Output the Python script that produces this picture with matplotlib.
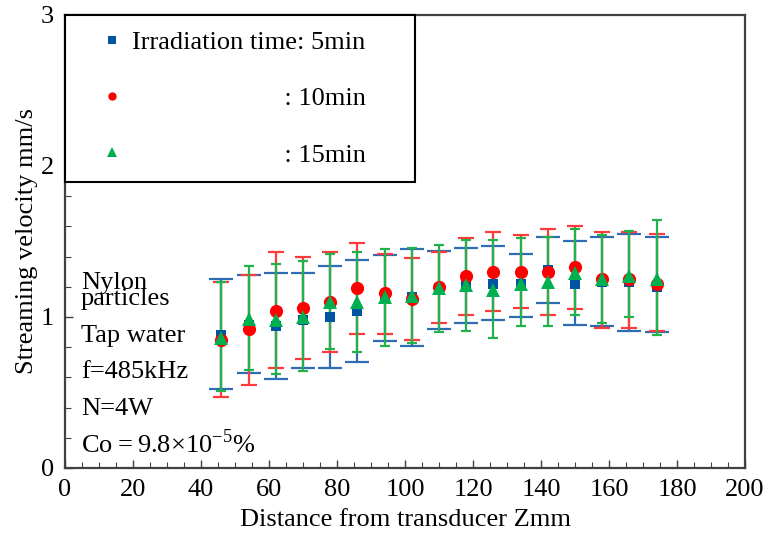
import numpy as np
import matplotlib
matplotlib.use("Agg")
import matplotlib.pyplot as plt
from matplotlib.ticker import MultipleLocator

# --- data ---
z_mm = [46, 54, 62, 70, 78, 86, 94, 102, 110, 118, 126, 134, 142, 150, 158, 166, 174]

v5 = [0.88, 0.95, 0.94, 0.98, 1.00, 1.04, 1.13, 1.13, 1.19, 1.21, 1.22, 1.22, 1.31, 1.22, 1.23, 1.23, 1.20]
hi5 = [1.25, 1.28, 1.29, 1.29, 1.34, 1.38, 1.41, 1.45, 1.44, 1.46, 1.47, 1.42, 1.53, 1.50, 1.53, 1.55, 1.53]
lo5 = [0.52, 0.63, 0.59, 0.66, 0.66, 0.70, 0.84, 0.81, 0.92, 0.96, 0.98, 1.00, 1.09, 0.95, 0.94, 0.91, 0.90]

v10 = [0.85, 0.92, 1.04, 1.06, 1.10, 1.19, 1.16, 1.12, 1.20, 1.27, 1.30, 1.30, 1.30, 1.33, 1.25, 1.25, 1.22]
hi10 = [1.23, 1.28, 1.43, 1.40, 1.43, 1.49, 1.42, 1.39, 1.43, 1.52, 1.56, 1.54, 1.58, 1.60, 1.56, 1.56, 1.55]
lo10 = [0.47, 0.55, 0.66, 0.72, 0.77, 0.89, 0.89, 0.85, 0.96, 1.01, 1.04, 1.06, 1.01, 1.05, 0.93, 0.93, 0.91]

v15 = [0.86, 0.99, 0.98, 1.00, 1.10, 1.10, 1.13, 1.14, 1.19, 1.21, 1.18, 1.22, 1.23, 1.29, 1.25, 1.27, 1.25]
hi15 = [1.23, 1.34, 1.35, 1.37, 1.42, 1.43, 1.45, 1.46, 1.48, 1.51, 1.51, 1.52, 1.53, 1.58, 1.54, 1.57, 1.64]
lo15 = [0.51, 0.65, 0.62, 0.64, 0.79, 0.77, 0.81, 0.83, 0.90, 0.91, 0.86, 0.94, 0.94, 1.01, 0.96, 1.00, 0.88]

labels = ["Irradiation time: 5min", ": 10min", ": 15min"]
notes = ["Nylon\nparticles", "Tap water", "f=485kHz", "N=4W", "Co\u2009=\u20099.8×10$^{-5}$%"]

# --- style ---
plt.rcParams['font.family'] = ['Liberation Serif', 'DejaVu Serif']
plt.rcParams['mathtext.fontset'] = 'custom'
plt.rcParams['mathtext.rm'] = 'Liberation Serif'
plt.rcParams['font.size'] = 19

blue = "#0052A2"
red = "#FF0000"
green = "#00B050"

fig = plt.figure(figsize=(7.66, 5.45), dpi=100)
ax = fig.add_axes([0.0849, 0.1413, 0.8877, 0.8312])

series = [
    (v5, lo5, hi5, blue, "#2E6DB4", 's', 7.5, 8.5),
    (v10, lo10, hi10, red, "#FF3A3A", 'o', 9.5, 6.0),
    (v15, lo15, hi15, green, "#22B24C", '^', 9.5, 3.5),
]

handles = []
for i, (v, lo, hi, c, ec, mk, ms, cs) in enumerate(series):
    v = np.array(v)
    yerr = [v - np.array(lo), np.array(hi) - v]
    ax.errorbar(z_mm, v, yerr=yerr, fmt='none', ecolor=ec, elinewidth=1.6,
                capsize=cs, capthick=1.6, zorder=2 + i)
    h, = ax.plot(z_mm, v, linestyle='none', marker=mk, markersize=ms,
                 color=c, markeredgewidth=0, zorder=10 + i)
    handles.append(h)

ax.set_xlim(0, 200)
ax.set_ylim(0, 3)
ax.xaxis.set_major_locator(MultipleLocator(20))
ax.xaxis.set_minor_locator(MultipleLocator(5))
ax.yaxis.set_major_locator(MultipleLocator(1))
ax.yaxis.set_minor_locator(MultipleLocator(0.2))
ax.tick_params(which='both', direction='in', colors='#404040', labelcolor='black')
ax.tick_params(which='major', length=6, width=1.0, pad=8)
ax.tick_params(which='minor', length=4, width=0.8)
for s in ax.spines.values():
    s.set_color('#404040')
    s.set_linewidth(1.6)

ax.set_xlabel("Distance from transducer Zmm", labelpad=6)
ax.set_ylabel("Streaming velocity mm/s", labelpad=2)

# legend
leg = ax.legend(handles, labels, loc='upper left', bbox_to_anchor=(0, 0.6, 0.514, 0.4),
                mode='expand', borderaxespad=0, fancybox=False, framealpha=1,
                edgecolor='black', borderpad=0.58, handlelength=2.4,
                handletextpad=-0.45, labelspacing=1.25)
leg.get_frame().set_linewidth(1.5)
for t, lab in zip(leg.get_texts()[1:], labels[1:]):
    t.set_text(" " * 23 + lab)
for lh, s in zip(leg.legend_handles, [6, 6, 6.5]):
    lh.set_markersize(s)

# condition notes
note_y = [0.360, 0.278, 0.199, 0.117, 0.033]
for txt, yy in zip(notes, note_y):
    ax.text(0.0235, yy, txt, transform=ax.transAxes, va='baseline', ha='left',
            linespacing=0.62)

fig.savefig("out.png", dpi=100)
